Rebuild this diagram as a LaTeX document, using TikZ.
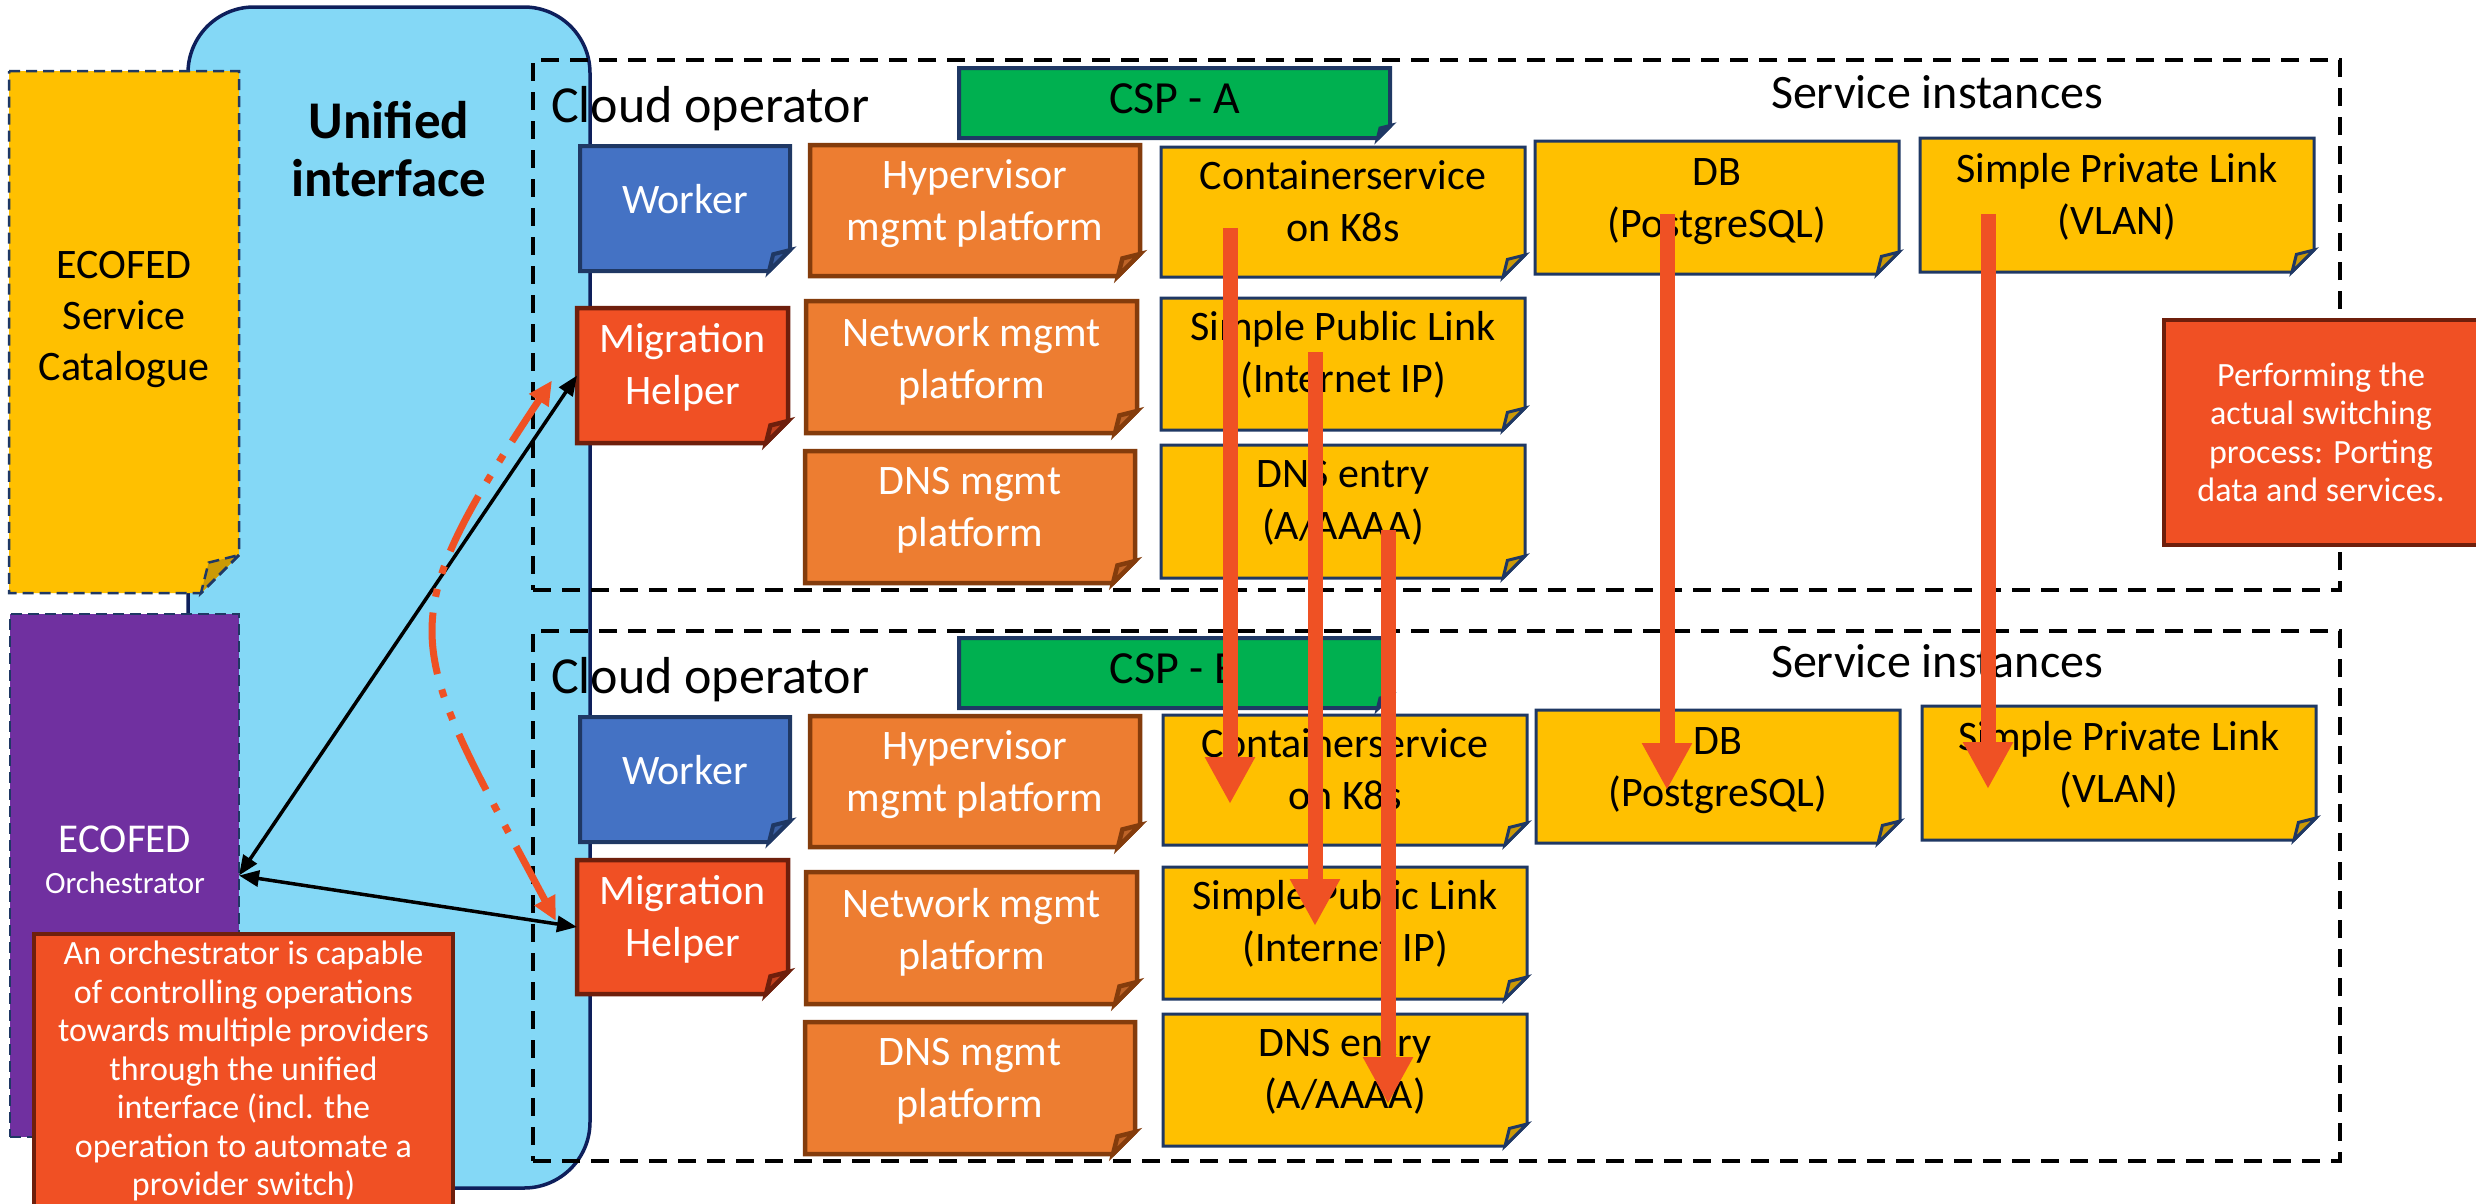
\documentclass[tikz,border=0pt]{standalone}
\usepackage{fontspec}
\setmainfont{Carlito}
\usetikzlibrary{arrows.meta,calc}

\definecolor{navy}{HTML}{1F3864}
\definecolor{uiblue}{HTML}{84D8F6}
\definecolor{uiedge}{HTML}{0E1F5B}
\definecolor{workerblue}{HTML}{4472C4}
\definecolor{workerfold}{HTML}{3A5FA3}
\definecolor{mgmtorange}{HTML}{ED7D31}
\definecolor{mgmtedge}{HTML}{843C0C}
\definecolor{mgmtfold}{HTML}{BE6428}
\definecolor{svcyellow}{HTML}{FFC000}
\definecolor{svcfold}{HTML}{CC9A06}
\definecolor{cspgreen}{HTML}{00B050}
\definecolor{alert}{HTML}{F05024}
\definecolor{alertedge}{HTML}{6E1F0C}
\definecolor{alertfold}{HTML}{C0401D}
\definecolor{orchpurple}{HTML}{7030A0}
\definecolor{flow}{HTML}{EF5124}

\tikzset{
  geom/.style={rectangle,inner sep=0pt,outer sep=0pt},
  catlook/.style={fill=svcyellow,draw=navy,line width=2.5pt,dash pattern=on 11pt off 6pt},
  orchlook/.style={fill=orchpurple,draw=navy,line width=2.5pt,dash pattern=on 11pt off 6pt},
  workerlook/.style={fill=workerblue,draw=navy,line width=4pt},
  mgmtlook/.style={fill=mgmtorange,draw=mgmtedge,line width=4.5pt},
  helperlook/.style={fill=alert,draw=alertedge,line width=4.5pt},
  svclook/.style={fill=svcyellow,draw=navy,line width=3pt},
  csplook/.style={fill=cspgreen,draw=navy,line width=4pt},
  group/.style={draw=black,line width=4pt,dash pattern=on 18pt off 11pt},
  bodytext/.style={align=center,inner sep=0pt,font=\fontsize{42}{52}\selectfont},
  lighttext/.style={bodytext,text=white},
  darktext/.style={bodytext,text=black},
  csptext/.style={inner sep=0pt,font=\fontsize{46}{55}\selectfont},
  heading/.style={inner sep=0pt,font=\fontsize{52}{62}\selectfont},
  subheading/.style={inner sep=0pt,font=\fontsize{48}{58}\selectfont},
  notebox/.style={geom,fill=alert,draw=alertedge,line width=4.5pt,text=white,
    align=center,font=\fontsize{34}{38.5}\selectfont},
  flowarrow/.style={draw=flow,line width=15pt,-{Triangle[length=47pt,width=47pt]}},
  ctrlarrow/.style={draw=black,line width=3.5pt,
    {Triangle[length=20pt,width=16pt]}-{Triangle[length=20pt,width=16pt]}},
  switcharrow/.style={draw=flow,line width=7pt,
    dash pattern=on 62pt off 16pt on 8pt off 16pt on 8pt off 16pt,
    {Triangle[length=24pt,width=22pt]}-{Triangle[length=24pt,width=22pt]}},
}

% Box with a folded bottom-right corner:
% name, look, fold colour, x0, y0, x1, y1, fold size
\newcommand\foldbox[8]{%
  \pgfmathsetmacro\fbw{#6-#4}%
  \pgfmathsetmacro\fbh{#7-#5}%
  \pgfmathsetmacro\fbx{(#4+#6)/2}%
  \pgfmathsetmacro\fby{(#5+#7)/2}%
  \path[#2] (#4,#5) -- (#6,#5) -- (#6,{#7-#8}) -- ({#6-#8},#7) -- (#4,#7) -- cycle;
  \path[#2,fill=#3] (#6,{#7-#8}) -- ({#6-#8},#7) -- ({#6-0.8*#8},{#7-0.8*#8}) -- cycle;
  \node[geom,minimum width=\fbw pt,minimum height=\fbh pt] (#1) at (\fbx,\fby) {};
}

\begin{document}
\begin{tikzpicture}[x=1pt,y=-1pt]
\useasboundingbox (0,0) rectangle (2476,1203);
\fill[white] (0,0) rectangle (2476,1203);

% unified interface band
\node[geom,fill=uiblue,draw=uiedge,line width=3.5pt,rounded corners=66pt,
  minimum width=402pt,minimum height=1181pt] (ui) at (389,597.5) {};
\node[align=center,inner sep=0pt,font=\bfseries\fontsize{53}{58}\selectfont] (ui-t)
  at (389,149.5) {Unified\\interface};

% provider groups
\node[geom,group,minimum width=1807pt,minimum height=530pt] (grpA) at (1436.5,325) {};
\node[geom,group,minimum width=1807pt,minimum height=530pt] (grpB) at (1436.5,896) {};

% service catalogue
\foldbox{cat}{catlook}{svcfold}{9}{71}{239}{593}{38}
\node[bodytext,font=\fontsize{42}{51}\selectfont] (cat-t) at (124,319) {ECOFED\\Service\\Catalogue};

% orchestrator
\node[geom,orchlook,minimum width=229pt,minimum height=523pt] (orch) at (124.5,875.5) {};
\node[anchor=base,inner sep=0pt,text=white,font=\fontsize{41}{49}\selectfont] (orch-t1) at (125,852) {ECOFED};
\node[anchor=base,inner sep=0pt,text=white,font=\fontsize{31}{37}\selectfont] (orch-t2) at (125,893) {Orchestrator};

% group headings
\node[heading,anchor=base west] (opA) at (551,122) {Cloud operator};
\node[subheading,anchor=base] (siA) at (1937,108) {Service instances};
\node[heading,anchor=base west] (opB) at (551,693) {Cloud operator};
\node[subheading,anchor=base] (siB) at (1937,677) {Service instances};

% provider A
\foldbox{cspA}{csplook}{navy}{959}{68}{1390}{138}{12}
\node[csptext] (cspA-t) at ([yshift=4.5pt]cspA.center) {CSP - A};
\foldbox{workerA}{workerlook}{workerfold}{580}{146}{790}{271}{21}
\node[lighttext] (workerA-t) at ([yshift=9pt]workerA.center) {Worker};
\foldbox{migA}{helperlook}{alertfold}{577}{308}{788}{443}{22}
\node[lighttext] (migA-t) at ([yshift=8pt]migA.center) {Migration\\Helper};
\foldbox{hypA}{mgmtlook}{mgmtfold}{810}{145}{1140}{276}{22}
\node[lighttext] (hypA-t) at ([yshift=7pt]hypA.center) {Hypervisor\\mgmt platform};
\foldbox{netA}{mgmtlook}{mgmtfold}{806}{301}{1137}{433}{22}
\node[lighttext] (netA-t) at ([yshift=6pt]netA.center) {Network mgmt\\platform};
\foldbox{dnsmA}{mgmtlook}{mgmtfold}{805}{451}{1135}{583}{22}
\node[lighttext] (dnsmA-t) at ([yshift=7pt]dnsmA.center) {DNS mgmt\\platform};
\foldbox{csA}{svclook}{svcfold}{1161}{147}{1525}{277}{22}
\node[darktext] (csA-t) at ([yshift=10.5pt]csA.center) {Containerservice\\on K8s};
\foldbox{pubA}{svclook}{svcfold}{1161}{298}{1525}{430}{22}
\node[darktext] (pubA-t) at ([yshift=8.75pt]pubA.center) {Simple Public Link\\(Internet IP)};
\foldbox{dnsA}{svclook}{svcfold}{1161}{445}{1525}{578}{22}
\node[darktext] (dnsA-t) at ([yshift=8.25pt]dnsA.center) {DNS entry\\(A/AAAA)};
\foldbox{dbA}{svclook}{svcfold}{1535}{141}{1899}{274}{22}
\node[darktext] (dbA-t) at ([yshift=5.75pt]dbA.center) {DB\\(PostgreSQL)};
\foldbox{privA}{svclook}{svcfold}{1920}{138}{2314}{272}{22}
\node[darktext] (privA-t) at ([yshift=7.75pt]privA.center) {Simple Private Link\\(VLAN)};

% provider B
\foldbox{cspB}{csplook}{navy}{959}{638}{1390}{708}{12}
\node[csptext] (cspB-t) at ([yshift=4.5pt]cspB.center) {CSP - B};
\foldbox{workerB}{workerlook}{workerfold}{580}{717}{790}{842}{21}
\node[lighttext] (workerB-t) at ([yshift=9pt]workerB.center) {Worker};
\foldbox{migB}{helperlook}{alertfold}{577}{860}{788}{994}{22}
\node[lighttext] (migB-t) at ([yshift=8pt]migB.center) {Migration\\Helper};
\foldbox{hypB}{mgmtlook}{mgmtfold}{810}{716}{1140}{847}{22}
\node[lighttext] (hypB-t) at ([yshift=7pt]hypB.center) {Hypervisor\\mgmt platform};
\foldbox{netB}{mgmtlook}{mgmtfold}{806}{872}{1137}{1004}{22}
\node[lighttext] (netB-t) at ([yshift=6pt]netB.center) {Network mgmt\\platform};
\foldbox{dnsmB}{mgmtlook}{mgmtfold}{805}{1022}{1135}{1154}{22}
\node[lighttext] (dnsmB-t) at ([yshift=7pt]dnsmB.center) {DNS mgmt\\platform};
\foldbox{csB}{svclook}{svcfold}{1163}{715}{1527}{845}{22}
\node[darktext] (csB-t) at ([yshift=10.5pt]csB.center) {Containerservice\\on K8s};
\foldbox{pubB}{svclook}{svcfold}{1163}{867}{1527}{999}{22}
\node[darktext] (pubB-t) at ([yshift=8.75pt]pubB.center) {Simple Public Link\\(Internet IP)};
\foldbox{dnsB}{svclook}{svcfold}{1163}{1014}{1527}{1146}{22}
\node[darktext] (dnsB-t) at ([yshift=8.25pt]dnsB.center) {DNS entry\\(A/AAAA)};
\foldbox{dbB}{svclook}{svcfold}{1536}{710}{1900}{843}{22}
\node[darktext] (dbB-t) at ([yshift=5.75pt]dbB.center) {DB\\(PostgreSQL)};
\foldbox{privB}{svclook}{svcfold}{1922}{706}{2316}{840}{22}
\node[darktext] (privB-t) at ([yshift=7.75pt]privB.center) {Simple Private Link\\(VLAN)};

% explanatory notes
\node[notebox,minimum width=419pt,minimum height=274pt] (orchnote) at (243.5,1071)
  {An orchestrator is capable\\of controlling operations\\towards multiple providers\\through the unified\\interface (incl. the\\operation to automate a\\provider switch)};
\node[notebox,minimum width=314pt,minimum height=225pt] (perfnote) at (2321,432.5)
  {Performing the\\actual switching\\process: Porting\\data and services.};

% orchestrator control links
\draw[ctrlarrow] (orch.east) -- (migA.west);
\draw[ctrlarrow] (orch.east) -- (migB.west);

% helper-to-helper switch
\coordinate (swA) at ($(migA.west)+(-25,5)$);
\coordinate (swB) at ($(migB.west)+(-21,-6)$);
\draw[switcharrow] (swB) .. controls (406,640) and (385,632) .. (swA);

% porting of service instances from A to B
\coordinate (csSrc) at (1230,228);   \coordinate (csDst) at (1230,804);
\coordinate (pubSrc) at (1315,352);  \coordinate (pubDst) at (1315,926);
\coordinate (dnsSrc) at (1388,530);  \coordinate (dnsDst) at (1388,1104);
\coordinate (dbSrc) at (1667,214);   \coordinate (dbDst) at (1667,790);
\coordinate (privSrc) at (1988,214); \coordinate (privDst) at (1988,789);
\draw[flowarrow] (csSrc) -- (csDst);
\draw[flowarrow] (pubSrc) -- (pubDst);
\draw[flowarrow] (dnsSrc) -- (dnsDst);
\draw[flowarrow] (dbSrc) -- (dbDst);
\draw[flowarrow] (privSrc) -- (privDst);
\end{tikzpicture}
\end{document}
